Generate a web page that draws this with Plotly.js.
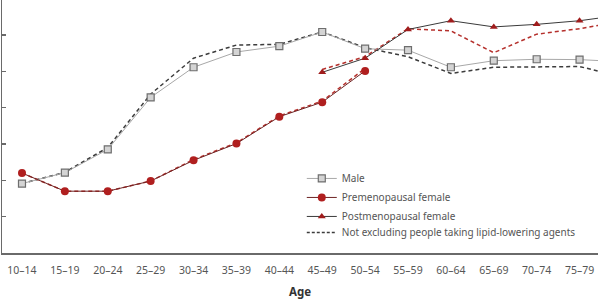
<!DOCTYPE html>
<html>
<head>
<meta charset="utf-8">
<script src="https://cdn.plot.ly/plotly-3.0.1.min.js"></script>
<style>
  html, body { margin: 0; padding: 0; background: #fff; }
  #chart { width: 598px; height: 303px; }
</style>
</head>
<body>
<div id="chart"></div>
<script>
// Age groups (the oldest group runs past the right edge of the plot)
const ages = ['10–14', '15–19', '20–24', '25–29', '30–34', '35–39', '40–44',
              '45–49', '50–54', '55–59', '60–64', '65–69', '70–74', '75–79', '≥80'];

// Lipid-lowering agent users excluded
const male    = [1.91, 2.21, 2.85, 4.28, 5.11, 5.53, 5.69, 6.08, 5.62, 5.58, 5.11, 5.29, 5.33, 5.32, 5.26];
const preMeno = [2.20, 1.70, 1.70, 1.98, 2.55, 3.01, 3.75, 4.15, 5.01, null, null, null, null, null, null];
const postMeno = [null, null, null, null, null, null, null, 4.97, 5.36, 6.15, 6.39, 6.22, 6.29, 6.39, 6.55];

// Not excluding people taking lipid-lowering agents
const maleAll     = [1.91, 2.22, 2.90, 4.37, 5.36, 5.72, 5.74, 6.08, 5.65, 5.40, 4.94, 5.11, 5.12, 5.13, 4.84];
const preMenoAll  = [2.20, 1.70, 1.70, 1.98, 2.57, 3.03, 3.77, 4.18, 5.08, null, null, null, null, null, null];
const postMenoAll = [null, null, null, null, null, null, null, 5.05, 5.40, 6.17, 6.11, 5.51, 6.02, 6.17, 6.38];

const FONT = '"Noto Sans", "Open Sans", sans-serif';

const traces = [
  { x: ages, y: maleAll, mode: 'lines', showlegend: false, hoverinfo: 'skip',
    line: { color: '#3c3c3c', width: 1.5, dash: '4px,3px' } },
  { x: ages, y: preMenoAll, mode: 'lines', showlegend: false, hoverinfo: 'skip',
    line: { color: '#b5302c', width: 1.5, dash: '4px,3px' } },
  { x: ages, y: postMenoAll, mode: 'lines', showlegend: false, hoverinfo: 'skip',
    line: { color: '#b5302c', width: 1.5, dash: '4px,3px' } },
  { x: ages, y: male, name: 'Male', mode: 'lines+markers',
    line: { color: '#a8a8a8', width: 1 },
    marker: { symbol: 'square', size: 7, color: '#d4d4d4', line: { color: '#6e6e6e', width: 1.2 } } },
  { x: ages, y: preMeno, name: 'Premenopausal female', mode: 'lines+markers',
    line: { color: '#6e2424', width: 1 },
    marker: { symbol: 'circle', size: 8, color: '#b01f1f' } },
  { x: ages, y: postMeno, name: 'Postmenopausal female', mode: 'lines+markers',
    line: { color: '#3a3a3a', width: 1 },
    marker: { symbol: 'triangle-up', size: 7, color: '#a01c1c' } },
  { x: [null], y: [null], name: 'Not excluding people taking lipid-lowering agents', mode: 'lines',
    legend: 'legend2',
    line: { color: '#3c3c3c', width: 1.5, dash: '3px,2px' } }
];

const legendBase = {
  x: 0.503, xanchor: 'left', yanchor: 'top',
  bgcolor: 'rgba(0,0,0,0)', font: { size: 10, color: '#555' },
  traceorder: 'normal', itemwidth: 30
};

const layout = {
  width: 598, height: 303,
  margin: { l: 2, r: 0, t: 0, b: 50 },
  paper_bgcolor: '#fff', plot_bgcolor: '#fff',
  font: { family: FONT, color: '#555', size: 10.5 },
  showlegend: true,
  legend: Object.assign({}, legendBase, { y: 0.352 }),
  legend2: Object.assign({}, legendBase, { y: 0.138 }),
  xaxis: {
    type: 'category', categoryarray: ages, range: [-0.466, 13.43],
    showline: true, linecolor: '#6a6a6a', linewidth: 1.5,
    showgrid: false, zeroline: false, ticks: '',
    ticklabelstandoff: 7,
    tickfont: { size: 10.5, color: '#555' },
    title: { text: '<b>Age</b>', font: { size: 11.5, color: '#333' }, standoff: 12 }
  },
  yaxis: {
    range: [0, 6.96], showline: true, linecolor: '#6a6a6a', linewidth: 1.5,
    showgrid: false, zeroline: false, showticklabels: false,
    ticks: 'inside', ticklen: 4, tickcolor: '#6a6a6a', tickwidth: 1.2,
    tickvals: [1, 2, 3, 4, 5, 6]
  }
};

Plotly.newPlot('chart', traces, layout, { staticPlot: true });
</script>
</body>
</html>
